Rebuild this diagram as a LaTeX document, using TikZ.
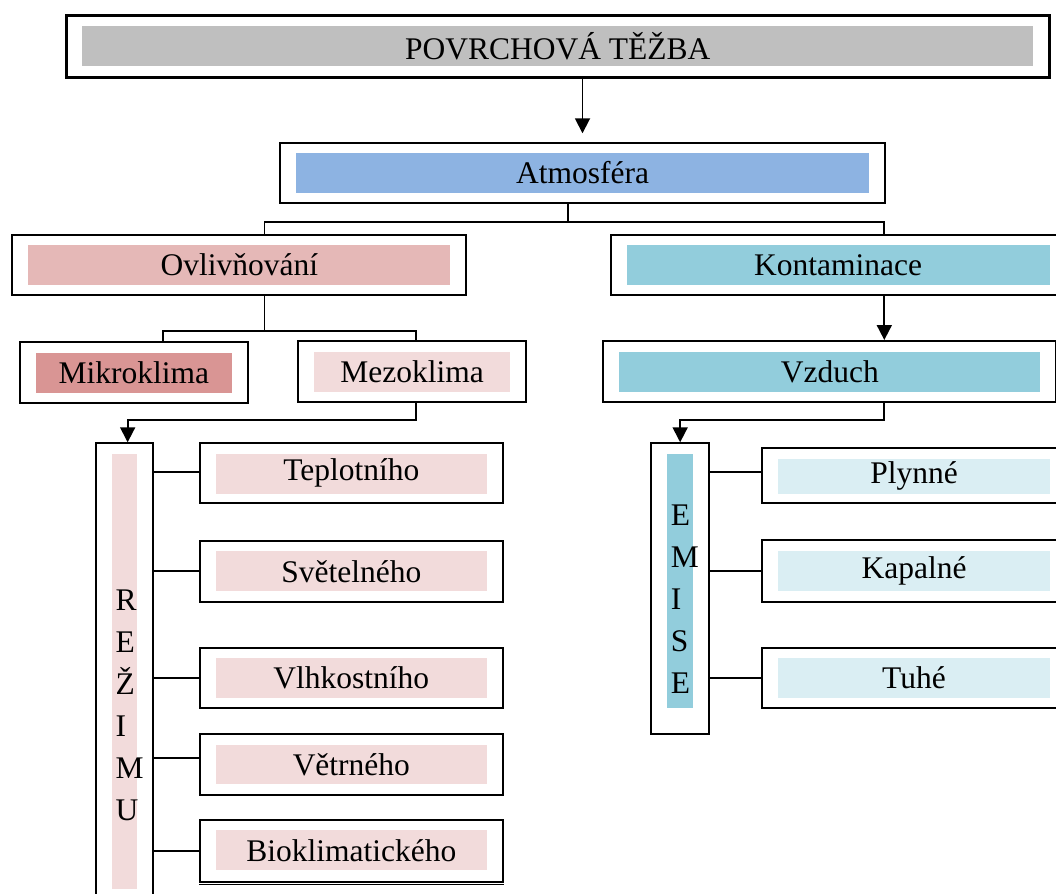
\documentclass[tikz,border=0pt]{standalone}
\usepackage{fontspec}
\setmainfont{Liberation Serif}
\usetikzlibrary{arrows.meta}

\definecolor{topgray}{HTML}{BFBFBF}
\definecolor{atmblue}{HTML}{8DB3E2}
\definecolor{rosemid}{HTML}{E5B8B7}
\definecolor{rosedark}{HTML}{D99594}
\definecolor{roselight}{HTML}{F2DBDB}
\definecolor{tealmid}{HTML}{92CDDC}
\definecolor{teallight}{HTML}{DAEEF3}

\tikzset{
  txt/.style={font=\fontsize{31.5}{42}\selectfont},
  % outer framed box; the coloured band is inset #2 at top and #3 at bottom
  panel/.style args={#1/#2/#3}{
    draw, line width=2pt, fill=white, rectangle, inner sep=0pt, anchor=north west, txt,
    path picture={\fill[#1] ([shift={(16pt,-#2)}]path picture bounding box.north west)
      rectangle ([shift={(-16pt,#3)}]path picture bounding box.south east);}},
  conn/.style={line width=1.8pt},
  arr/.style={line width=1.8pt, -{Triangle[length=15pt,width=15pt]}},
  letters/.style={txt, align=left, inner sep=0pt, anchor=west}
}

\begin{document}
\begin{tikzpicture}[x=1pt,y=-1pt]
\useasboundingbox (0,0) rectangle (1056,893);
\clip (0,0) rectangle (1056,893);

% top level
\node[panel=topgray/11pt/11.5pt, line width=2.6pt, minimum width=983pt, minimum height=62pt] (top) at (65,14) {POVRCHOVÁ TĚŽBA};
\node[panel=atmblue/10.3pt/10.6pt, minimum width=605pt, minimum height=60.6pt] (atm) at (279,141.7) {Atmosféra};

% second level
\node[panel=rosemid/10.3pt/10.3pt, minimum width=454pt, minimum height=60.6pt] (ovl) at (11.4,233.7) {Ovlivňování};
\node[panel=tealmid/10.3pt/10.3pt, minimum width=455pt, minimum height=60.6pt] (kon) at (609.7,233.7) {Kontaminace};

% third level
\node[panel=rosedark/11pt/10.6pt, minimum width=227.7pt, minimum height=61.3pt] (mik) at (18.9,341) {Mikroklima};
\node[panel=roselight/10.7pt/10.6pt, minimum width=228pt, minimum height=61pt] (mez) at (297.2,340.3) {Mezoklima};
\node[panel=tealmid/11pt/10.3pt, minimum width=453pt, minimum height=61pt] (vzd) at (602.3,340) {Vzduch};

% vertical label columns
\node[panel=roselight/10.7pt/10.8pt, minimum width=57.3pt, minimum height=456pt] (re) at (95,442.3) {};
\node[letters] (retext) at (115.5,705) {R\\E\\Ž\\I\\M\\U};
\node[panel=tealmid/10.7pt/26.6pt, minimum width=58.3pt, minimum height=291pt] (emi) at (650,442.3) {};
\node[letters] (emitext) at (670.6,599) {E\\M\\I\\S\\E};

% kinds of regime
\node[panel=roselight/10.7pt/9.6pt, minimum width=302.7pt, minimum height=60pt] (tep) at (199,442.3) {Teplotního};
\node[panel=roselight/10.3pt/10.7pt, minimum width=302.7pt, minimum height=61pt] (sve) at (199,539.7) {Světelného};
\node[panel=roselight/10.6pt/10pt, minimum width=302.7pt, minimum height=60pt] (vlh) at (199,646.7) {Vlhkostního};
\node[panel=roselight/10.7pt/10.7pt, minimum width=302.7pt, minimum height=60.7pt] (vet) at (199,733.3) {Větrného};
\node[panel=roselight/10pt/12pt, minimum width=302.7pt, minimum height=61.7pt] (bio) at (199,819) {Bioklimatického};
\draw[line width=1.3pt] ([yshift=-2pt]bio.south west) -- ([yshift=-2pt]bio.south east);

% kinds of emissions
\node[panel=teallight/11pt/9.6pt, minimum width=304pt, minimum height=55pt] (ply) at (761,447.3) {Plynné};
\node[panel=teallight/10.7pt/10.7pt, minimum width=304pt, minimum height=61.4pt] (kap) at (761,539.3) {Kapalné};
\node[panel=teallight/10.6pt/10pt, minimum width=304pt, minimum height=60pt] (tuh) at (761,646.7) {Tuhé};

% connectors
\coordinate (xk) at (884.3,0);
\coordinate (xo) at (264.5,0);
\coordinate (j1) at (567.7,221.7);
\coordinate (j2) at (264.5,331.3);

\draw[arr, shorten >=8.4pt] (top.south -| atm.north) -- (atm.north);
\draw[conn] (atm.south -| j1) -- (j1);
\draw[conn] (j1) -| (ovl.north -| xo);
\draw[conn] (j1) -| (kon.north -| xk);
\draw[arr] (kon.south -| xk) -- (vzd.north -| xk);

\draw[conn] (ovl.south -| xo) -- (j2);
\draw[conn] (j2) -| ([xshift=29pt]mik.north);
\draw[conn] (j2) -| ([xshift=3.4pt]mez.north);

\draw[arr] ([xshift=3.4pt]mez.south) -- ++(0,16.4) -| ([xshift=3pt]re.north);
\draw[arr] (vzd.south -| xk) -- ++(0,16.7) -| (emi.north);

\draw[conn] (re.east |- tep.west) ++(0,-1.3) -- ([yshift=1.3pt]tep.west);
\draw[conn] (re.east |- sve.west) -- (sve.west);
\draw[conn] (re.east |- vlh.west) -- (vlh.west);
\draw[conn] ([yshift=6.7pt]re.east |- vet.west) -- ([yshift=6.7pt]vet.west);
\draw[conn] (re.east |- bio.west) -- (bio.west);

\draw[conn] ([yshift=3.8pt]emi.east |- ply.west) -- ([yshift=3.8pt]ply.west);
\draw[conn] (emi.east |- kap.west) -- (kap.west);
\draw[conn] (emi.east |- tuh.west) -- (tuh.west);
\end{tikzpicture}
\end{document}
